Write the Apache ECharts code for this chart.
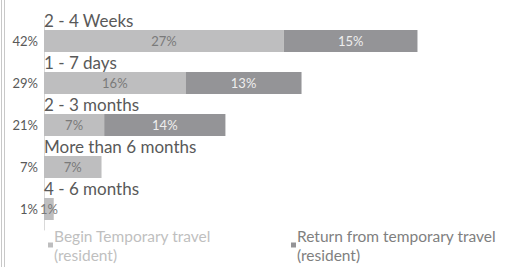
<!DOCTYPE html>
<html>
<head>
<meta charset="utf-8">
<script src="https://cdn.jsdelivr.net/npm/echarts@6/dist/echarts.min.js"></script>
<style>
  html, body { margin: 0; padding: 0; background: #fff; }
  #chart { width: 515px; height: 267px; }
</style>
</head>
<body>
<div id="chart"></div>
<script>
var categories = ['2 - 4 Weeks', '1 - 7 days', '2 - 3 months', 'More than 6 months', '4 - 6 months'];
var beginTravel = [27.1, 16.0, 6.8, 6.5, 1.1];
var returnTravel = [15.1, 13.1, 13.7, 0, 0];
var seriesNames = ['Begin Temporary travel (resident)', 'Return from temporary travel (resident)'];

var totals = categories.map(function(c, i) {
  return Math.round((beginTravel[i] + returnTravel[i]) * 10) / 10;
});

function pct(v) {
  return Math.round(Math.round(v * 10) / 10) + '%';
}

var font = 'Lato';
var light = '#bebebf';
var dark = '#949497';

function legendText(n) { return n.replace(' (', '\n('); }

var chart = echarts.init(document.getElementById('chart'), null, { renderer: 'svg' });
chart.setOption({
  animation: false,
  textStyle: { fontFamily: font },
  grid: { left: 44, right: 28.5, top: 20, bottom: 37, containLabel: false },
  xAxis: { type: 'value', min: 0, max: 50, show: false },
  yAxis: {
    type: 'category',
    data: categories,
    inverse: true,
    axisLine: { show: true, lineStyle: { color: '#d9d9d9', width: 1 } },
    axisTick: { show: false },
    axisLabel: {
      margin: 6,
      color: '#595959',
      fontSize: 13,
      fontFamily: font,
      formatter: function(v, i) { return pct(totals[i]); }
    }
  },
  legend: [{
    data: [seriesNames[0]],
    left: 43,
    top: 224,
    padding: [2, 5, 2, 5],
    icon: 'rect',
    itemWidth: 5,
    itemHeight: 5,
    itemGap: 0,
    textStyle: { color: '#bfbfbf', fontSize: 15.5, fontFamily: font, lineHeight: 19, padding: [0, 0, 0, -4] },
    formatter: legendText
  }, {
    data: [seriesNames[1]],
    left: 286,
    top: 224,
    padding: [2, 5, 2, 5],
    icon: 'rect',
    itemWidth: 5,
    itemHeight: 5,
    itemGap: 0,
    textStyle: { color: '#7f7f7f', fontSize: 15.5, fontFamily: font, lineHeight: 19, padding: [0, 0, 0, -4] },
    formatter: legendText
  }],
  graphic: [
    { type: 'line', shape: { x1: 1.5, y1: 0, x2: 1.5, y2: 267 }, style: { stroke: '#c8c8c8', lineWidth: 1 } },
    { type: 'line', shape: { x1: 4.5, y1: 0, x2: 4.5, y2: 267 }, style: { stroke: '#c8c8c8', lineWidth: 1 } }
  ],
  series: [{
    name: seriesNames[0],
    type: 'bar',
    stack: 'all',
    barWidth: 22,
    itemStyle: { color: light },
    label: {
      show: true,
      position: 'inside',
      color: '#7a7a7a',
      fontSize: 13,
      fontFamily: font,
      formatter: function(p) { return p.value > 0 ? pct(p.value) : ''; }
    },
    data: beginTravel
  }, {
    name: seriesNames[1],
    type: 'bar',
    stack: 'all',
    barWidth: 22,
    itemStyle: { color: dark },
    label: {
      show: true,
      position: 'inside',
      color: '#eeeeee',
      fontSize: 13,
      fontFamily: font,
      formatter: function(p) { return p.value > 0 ? pct(p.value) : ''; }
    },
    data: returnTravel
  }, {
    name: 'names',
    type: 'bar',
    barWidth: 22,
    barGap: '-100%',
    silent: true,
    z: 1,
    itemStyle: { color: 'rgba(0,0,0,0)' },
    label: {
      show: true,
      position: [0, -18],
      color: '#595959',
      fontSize: 17,
      fontFamily: font,
      formatter: function(p) { return categories[p.dataIndex]; }
    },
    data: totals
  }]
});
window.addEventListener('resize', function() { chart.resize(); });
</script>
</body>
</html>
